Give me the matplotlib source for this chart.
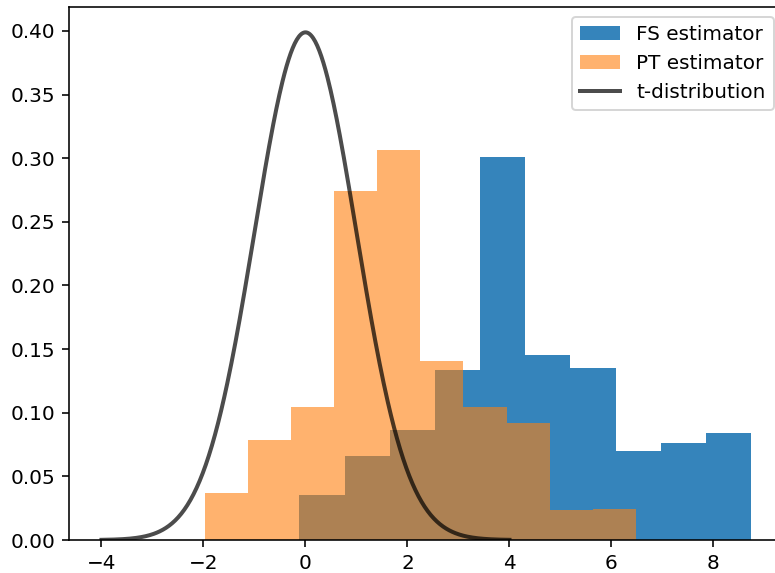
import math
import numpy as np
import matplotlib
matplotlib.use("Agg")
import matplotlib.pyplot as plt

# histogram bins
fs_edges = np.linspace(-0.12, 8.74, 11)
fs_density = [0.0353, 0.0660, 0.0864, 0.1335, 0.3006, 0.1453, 0.1351, 0.0697, 0.0762, 0.0843]

pt_edges = np.linspace(-1.98, 6.48, 11)
pt_density = [0.0367, 0.0786, 0.1045, 0.2744, 0.3061, 0.1408, 0.1047, 0.0921, 0.0236, 0.0244]

# t-distribution curve
df = 999
t_range = (-4, 4)


def t_pdf(x, nu):
    logc = math.lgamma((nu + 1) / 2) - math.lgamma(nu / 2) - 0.5 * math.log(nu * math.pi)
    return math.exp(logc) * (1 + x ** 2 / nu) ** (-(nu + 1) / 2)


fig = plt.figure(figsize=(775 / 144, 573 / 144), dpi=144)
ax = fig.add_axes([69 / 775, 33 / 573, 714.7 / 775, 533 / 573])

ax.hist(fs_edges[:-1], bins=fs_edges, weights=fs_density, alpha=0.9, label='FS estimator')
ax.hist(pt_edges[:-1], bins=pt_edges, weights=pt_density, alpha=0.6, label='PT estimator')

xs = np.linspace(t_range[0], t_range[1], 400)
ax.plot(xs, t_pdf(xs, df), color='k', lw=2, alpha=0.7, label='t-distribution')

ax.legend(loc='upper right')

fig.savefig('out.png', dpi=144)
